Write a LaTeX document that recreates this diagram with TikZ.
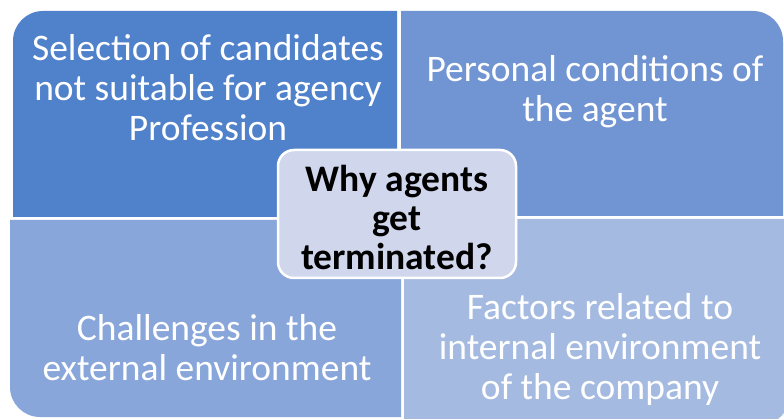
\documentclass[tikz,border=0pt]{standalone}
\usepackage{fontspec}
\setmainfont{Carlito}
\definecolor{qA}{RGB}{80,129,203}
\definecolor{qB}{RGB}{113,148,210}
\definecolor{qC}{RGB}{137,166,218}
\definecolor{qD}{RGB}{164,186,225}
\definecolor{hub}{RGB}{208,214,236}
\tikzset{
  qtext/.style={text=white, align=center, font=\fontsize{37.5}{40}\selectfont, inner sep=0pt},
  hubbox/.style={fill=hub, draw=white, line width=2.5pt, rounded corners=16pt,
    minimum width=238pt, minimum height=128pt, align=center,
    font=\fontsize{37.5}{39}\selectfont\bfseries, text=black, inner sep=0pt}
}
\begin{document}
\begin{tikzpicture}[x=1pt,y=-1pt]
\useasboundingbox (0,0) rectangle (784,419);
\begin{scope}
\clip (0,0) rectangle (784,419);
% four quadrants, each rounded at its outer corner
\fill[qA] (397,217) -- (13,217) [rounded corners=30pt] -- (13,11) [sharp corners] -- (397,11) -- cycle;
\fill[qB] (401,11) [rounded corners=30pt] -- (783,11) [sharp corners] -- (783,216) -- (401,216) -- cycle;
\fill[qC] (10,220) [rounded corners=30pt] -- (10,417) [sharp corners] -- (401,417) -- (401,220) -- cycle;
\fill[qD] (404,219) -- (790,219) [rounded corners=30pt] -- (790,425) [sharp corners] -- (404,425) -- cycle;
\end{scope}
\node[qtext] (tl) at (208,88) {Selection of candidates\\not suitable for agency\\Profession};
\node[qtext] (tr) at (595,92) {Personal conditions of\\the agent};
\node[qtext] (bl) at (207,348) {Challenges in the\\external environment};
\node[hubbox] (hub) at (397,214) {};
\node[font=\fontsize{37.5}{39}\selectfont\bfseries, align=center, inner sep=0pt] (hubtext) at (397,217) {Why agents\\get\\terminated?};
\node[qtext] (br) at (600,350) {Factors related to\\internal environment\\of the company};
\end{tikzpicture}
\end{document}
